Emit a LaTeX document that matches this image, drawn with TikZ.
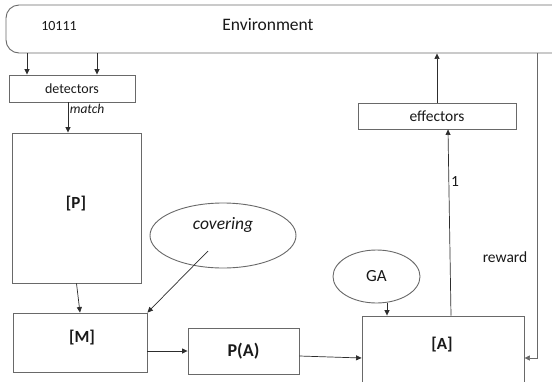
\documentclass[tikz,border=0pt]{standalone}
\usepackage{fontspec}
\setmainfont{Carlito}
\usetikzlibrary{shapes.geometric,arrows.meta,calc}
\definecolor{linec}{RGB}{105,105,105}
\definecolor{arrc}{RGB}{45,45,45}
\definecolor{txtc}{RGB}{25,25,25}
\begin{document}
\begin{tikzpicture}[x=1pt,y=-1pt,
  box/.style={draw=linec, line width=0.9pt, rectangle, inner sep=0pt, text=txtc},
  oval/.style={draw=linec, line width=0.9pt, ellipse, inner sep=0pt, text=txtc},
  lbl/.style={inner sep=0pt, text=txtc},
  arr/.style={draw=arrc, line width=0.7pt, -{Triangle[length=5.5pt,width=5pt]}}
]
\useasboundingbox (0,0) rectangle (552,381);
\fill[white] (0,0) rectangle (552,381);
\begin{scope}
  \clip (0,0) rectangle (552,381);
  \node[box, rounded corners=13pt, minimum width=594pt, minimum height=48pt] (env) at (303,29) {};
  \node[box, minimum width=162pt, minimum height=84pt] (A) at (443,358) {};
\end{scope}
\node[lbl, font=\fontsize{14}{16}\selectfont] (code) at (59,26) {10111};
\node[lbl, font=\fontsize{17.5}{20}\selectfont] (envt) at (268,25) {Environment};

\node[box, minimum width=126pt, minimum height=27pt, font=\fontsize{14}{16}\selectfont] (det) at (72,88.5) {detectors};
\node[box, minimum width=129pt, minimum height=150pt] (P) at (76.5,208) {};
\node[lbl, font=\bfseries\fontsize{17}{20}\selectfont] (Pt) at (76,204) {[P]};
\node[box, minimum width=134pt, minimum height=59pt] (M) at (80,342.5) {};
\node[lbl, font=\bfseries\fontsize{17}{20}\selectfont] (Mt) at (82,338) {[M]};
\node[box, minimum width=111pt, minimum height=46pt, font=\bfseries\fontsize{18}{20}\selectfont] (PA) at (243.5,351) {P(A)};
\node[lbl, font=\bfseries\fontsize{17}{20}\selectfont] (At) at (442,345) {[A]};
\node[box, minimum width=158pt, minimum height=26pt, font=\fontsize{15.5}{18}\selectfont] (eff) at (437,116) {effectors};
\node[oval, minimum width=146pt, minimum height=65pt] (cov) at (223,235.5) {};
\node[lbl, font=\itshape\fontsize{17.5}{20}\selectfont] (covt) at (223,225) {covering};
\node[oval, minimum width=87pt, minimum height=53pt, font=\fontsize{17}{20}\selectfont] (GA) at (376.5,276.5) {GA};

% connectors
\draw[arr] (env.south -| 27,0) -- (det.north -| 27,0);
\draw[arr] (env.south -| 97,0) -- (det.north -| 97,0);
\draw[arr] (det.south -| 68,0) -- (P.north -| 68,0)
  node[lbl, pos=0.22, right=1.5pt, font=\itshape\fontsize{13.5}{16}\selectfont] (match) {match};
\draw[arr] (P.south) -- (M.north);
\draw[arr] ($(cov.center)+(-15,15.5)$) -- (M.north east);
\draw[arr] (PA.west -| M.east) -- (PA.west);
\draw[arr] ([yshift=-5pt]PA.east) -- (A.west);
\draw[arr] (GA.south -| 387,0) -- (A.north -| 387,0);
\draw[arr] ([xshift=8pt]A.north) -- ([xshift=11pt]eff.south)
  node[lbl, pos=0.72, right=2pt, font=\fontsize{15.5}{18}\selectfont] (one) {1};
\draw[arr] (eff.north) -- (eff.north |- env.south);
\draw[arr, draw=linec] (env.south -| 537,0) |- (A.east);
\node[lbl, font=\fontsize{15.5}{18}\selectfont] (rew) at (505,257) {reward};
\end{tikzpicture}
\end{document}
